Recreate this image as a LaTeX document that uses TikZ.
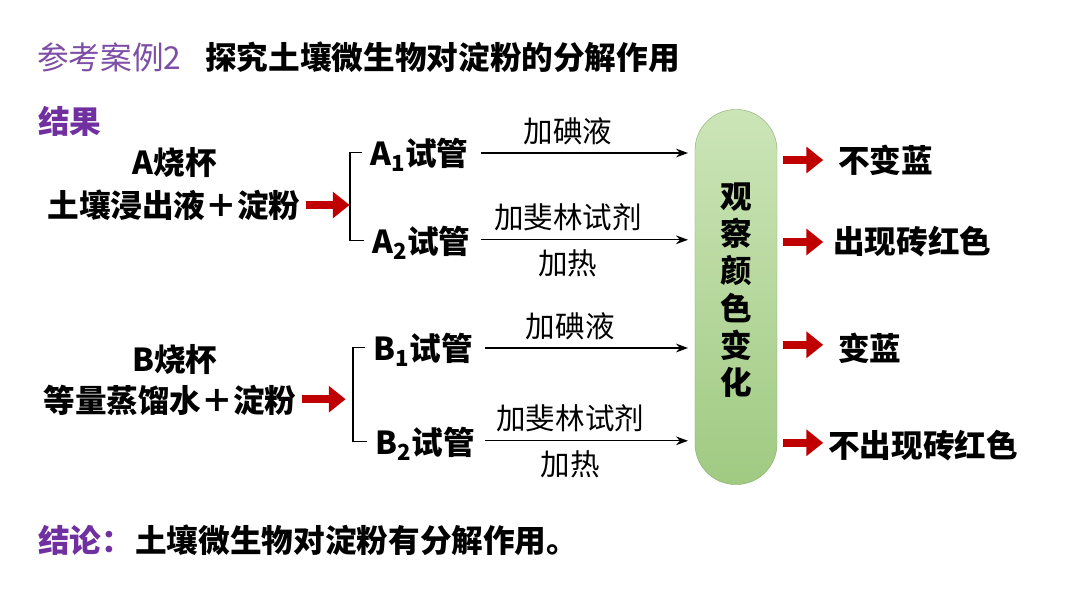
\documentclass[tikz,border=0pt]{standalone}
\usepackage{fontspec}
\setmainfont{Noto Sans CJK SC}
\usepackage{tikz}
\usetikzlibrary{positioning,arrows.meta}
\definecolor{darkred}{RGB}{192,0,0}
\definecolor{violet}{RGB}{112,48,160}
\definecolor{lightviolet}{RGB}{125,78,165}
\definecolor{pilltop}{RGB}{204,229,184}
\definecolor{pillbot}{RGB}{160,202,130}
\newcommand{\tube}[2]{#1\textsubscript{#2}试管}

\begin{document}
\begin{tikzpicture}[x=0.025cm,y=-0.025cm,
  every node/.style={inner sep=0pt},
  big/.style={font=\fontsize{22.5}{26}\selectfont\bfseries},
  lbl/.style={font=\fontsize{21}{25}\selectfont},
  redarrow/.style={darkred,line width=6pt,-{Triangle[length=0.42cm,width=0.64cm]}},
  thinarrow/.style={thick,-{Stealth[length=0.3cm,width=0.22cm]}},
  bracket/.style={thick}]
\useasboundingbox (0,0) rectangle (1080,608);
% title and headings
\node[anchor=west,lightviolet,font=\fontsize{22.5}{26}\selectfont] (case) at (37,57) {参考案例2};
\node[anchor=west,big] (topic) at (205,57) {探究土壤微生物对淀粉的分解作用};
\node[anchor=west,big,violet] (result) at (38,121) {结果};
% beakers
\node[big] (beakA) at (175,163) {A烧杯};
\node[big] (mixA) at (174,205) {土壤浸出液＋淀粉};
\node[big] (beakB) at (175,360) {B烧杯};
\node[big] (mixB) at (170,400) {等量蒸馏水＋淀粉};
% test tubes
\node[anchor=west,big] (a1) at (370,155) {\tube{A}{1}};
\node[anchor=west,big] (a2) at (372,243) {\tube{A}{2}};
\node[anchor=west,big] (b1) at (373,350) {\tube{B}{1}};
\node[anchor=west,big] (b2) at (375,444) {\tube{B}{2}};
% observation pill
\node[draw=pillbot!85!black,line width=0.3pt,top color=pilltop,bottom color=pillbot,
  rounded corners=1.02cm,minimum width=2.05cm,minimum height=9.375cm] (pill) at (736,297) {};
\node[align=center,font=\fontsize{22.5}{26.5}\selectfont\bfseries] (observe) at (736,290)
  {观\\察\\颜\\色\\变\\化};
% results
\node[anchor=west,big] (r1) at (838,160) {不变蓝};
\node[anchor=west,big] (r2) at (833,242) {出现砖红色};
\node[anchor=west,big] (r3) at (838,348) {变蓝};
\node[anchor=west,big] (r4) at (828,446) {不出现砖红色};
% conclusion
\node[anchor=west,big,violet] (concl) at (38,540) {结论：};
\node[anchor=west,big] (conclText) at (135,540) {土壤微生物对淀粉有分解作用。};
% red arrows into the brackets
\draw[redarrow] ([xshift=0.12cm]mixA.east) -- ++(44,0);
\draw[redarrow] ([xshift=0.12cm,yshift=0.02cm]mixB.east) -- ++(44,0);
% brackets
\draw[bracket] ([xshift=-0.2cm,yshift=0.06cm]a1.west) -- ++(-12,0) |- ([xshift=-0.2cm,yshift=0.06cm]a2.west);
\draw[bracket] ([xshift=-0.2cm,yshift=0.06cm]b1.west) -- ++(-12,0) |- ([xshift=-0.2cm,yshift=0.06cm]b2.west);
% reagent arrows
\draw[thinarrow] ([xshift=0.3cm,yshift=0.05cm]a1.east) -- ([xshift=-0.17cm,yshift=0.05cm]a1.east -| pill.west)
  node[pos=0.42,above=0.18cm,lbl] (iodA) {加碘液};
\draw[thinarrow] ([xshift=0.25cm,yshift=0.08cm]a2.east) -- ([xshift=-0.17cm,yshift=0.08cm]a2.east -| pill.west)
  node[pos=0.42,above=0.2cm,lbl] (fehA) {加斐林试剂}
  node[pos=0.42,below=0.22cm,lbl] (heatA) {加热};
\draw[thinarrow] ([xshift=0.3cm,yshift=0.05cm]b1.east) -- ([xshift=-0.17cm,yshift=0.05cm]b1.east -| pill.west)
  node[pos=0.42,above=0.18cm,lbl] (iodB) {加碘液};
\draw[thinarrow] ([xshift=0.25cm,yshift=0.08cm]b2.east) -- ([xshift=-0.17cm,yshift=0.08cm]b2.east -| pill.west)
  node[pos=0.42,above=0.2cm,lbl] (fehB) {加斐林试剂}
  node[pos=0.42,below=0.22cm,lbl] (heatB) {加热};
% red arrows to the results
\draw[redarrow] ([xshift=0.15cm]pill.east |- r1.west) -- ++(40,0);
\draw[redarrow] ([xshift=0.15cm]pill.east |- r2.west) -- ++(40,0);
\draw[redarrow] ([xshift=0.15cm,yshift=0.08cm]pill.east |- r3.west) -- ++(40,0);
\draw[redarrow] ([xshift=0.15cm,yshift=0.08cm]pill.east |- r4.west) -- ++(40,0);
\end{tikzpicture}
\end{document}
